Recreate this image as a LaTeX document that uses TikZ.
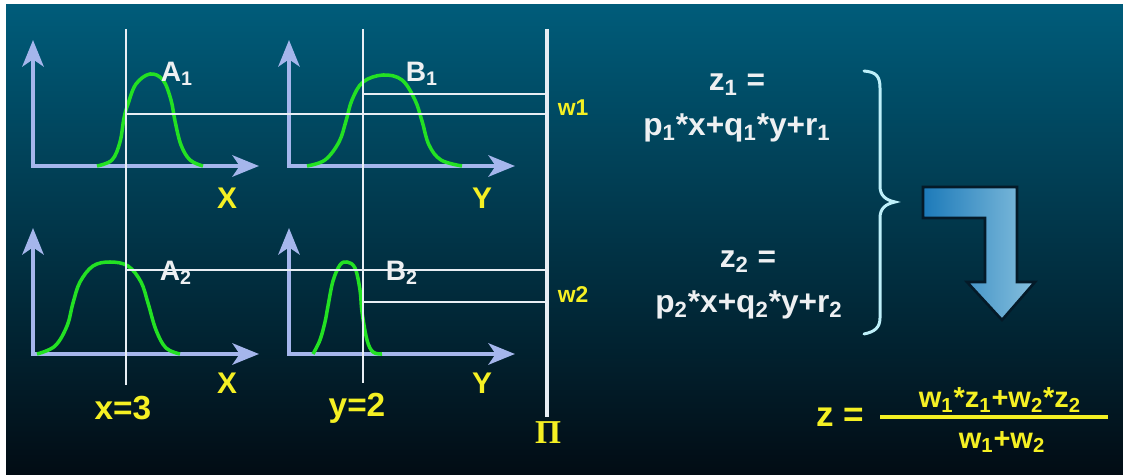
\documentclass[tikz,border=0pt]{standalone}
\usepackage{fontspec}
\setmainfont{Liberation Sans}
\newfontfamily\pifont{Liberation Serif}
\usetikzlibrary{arrows.meta,positioning}

\definecolor{bgtop}{RGB}{0,92,122}
\definecolor{bgmid}{RGB}{4,50,70}
\definecolor{bgbot}{RGB}{2,12,20}
\definecolor{axisblue}{RGB}{165,182,236}
\definecolor{mfgreen}{RGB}{35,225,35}
\definecolor{guidewhite}{RGB}{232,238,244}
\definecolor{lblyellow}{RGB}{245,240,35}
\definecolor{lblwhite}{RGB}{238,240,242}
\definecolor{bracecyan}{RGB}{190,240,250}
\definecolor{arrowleft}{RGB}{28,122,185}
\definecolor{arrowright}{RGB}{135,192,222}
\definecolor{arrowedge}{RGB}{4,26,40}

\begin{document}
\begin{tikzpicture}[
  x=0.02cm, y=-0.02cm,
  axis/.style={draw=axisblue, line width=2.8pt,
    {Stealth[length=15pt,width=12pt,inset=4pt]}-{Stealth[length=15pt,width=12pt,inset=4pt]}},
  mf/.style={draw=mfgreen, line width=2pt, line join=round},
  guide/.style={draw=guidewhite, line width=1.1pt},
  piline/.style={draw=guidewhite, line width=2.2pt},
  setlbl/.style={text=lblwhite, font=\fontsize{16}{18}\selectfont\bfseries, inner sep=0pt},
  varlbl/.style={text=lblyellow, font=\fontsize{17}{19}\selectfont\bfseries, inner sep=0pt},
  vallbl/.style={text=lblyellow, font=\fontsize{19}{21}\selectfont\bfseries, inner sep=0pt},
  wlbl/.style={text=lblyellow, font=\fontsize{13}{15}\selectfont\bfseries, inner sep=0pt},
  eqn/.style={text=lblwhite, font=\fontsize{18}{20}\selectfont\bfseries, inner sep=0pt},
  res/.style={text=lblyellow, font=\fontsize{16.5}{19}\selectfont\bfseries, inner sep=0pt}
]
\useasboundingbox (0,0) rectangle (1123,475);
\fill[white] (0,0) rectangle (1123,475);
\shade[top color=bgtop, middle color=bgmid, bottom color=bgbot] (6,5) rectangle (1123,475);

% axes of the four panels
\foreach \ox/\oy/\nm in {33/166/a1, 289/166/b1, 33/354/a2, 289/354/b2} {
  \coordinate (o\nm) at (\ox,\oy);
  \coordinate (x\nm) at (\ox+226,\oy);
  \coordinate (y\nm) at (\ox,\oy-126);
  \draw[axis] (y\nm) -- (o\nm) -- (x\nm);
}

% membership functions
\draw[mf] plot[smooth, tension=0.6] coordinates {(97,166) (112,160) (120,142) (124,118) (128,104) (136,84) (150,74) (163,80) (171,100) (175,121) (181,145) (190,160) (203,166)};
\draw[mf] plot[smooth, tension=0.6] coordinates {(307,166) (325,160) (339,142) (346,121) (352,100) (363,82) (383,75) (402,80) (415,100) (422,121) (429,145) (441,160) (462,166)};
\draw[mf] plot[smooth, tension=0.6] coordinates {(37,354) (55,346) (67,326) (73,303) (80,282) (93,266) (110,262) (128,266) (141,282) (148,303) (156,330) (166,348) (180,354)};
\draw[mf] plot[smooth, tension=0.6] coordinates {(313,354) (320,340) (325,322) (328,306) (333,281) (340,265) (347,262) (355,268) (360,290) (362,312) (367,340) (373,352) (382,354)};

% input values and output axis
\coordinate (gxtop) at (126,29);
\coordinate (gxbot) at (126,385);
\coordinate (gytop) at (363,29);
\coordinate (gybot) at (363,383);
\coordinate (pitop) at (547,29);
\coordinate (pibot) at (547,417);
\draw[guide] (gxtop) -- (gxbot);
\draw[guide] (gytop) -- (gybot);
\draw[piline] (pitop) -- (pibot);

\coordinate (cuta1) at (126,114);
\coordinate (cutb1) at (363,94);
\coordinate (cuta2) at (126,270);
\coordinate (cutb2) at (363,302);
\foreach \c in {cuta1, cutb1, cuta2, cutb2}
  \draw[guide] (\c) -- (\c -| pitop);

% labels
\node[setlbl] (la1) at (177,74) {A\textsubscript{1}};
\node[setlbl] (lb1) at (422,74) {B\textsubscript{1}};
\node[setlbl] (la2) at (176,273) {A\textsubscript{2}};
\node[setlbl] (lb2) at (402,273) {B\textsubscript{2}};
\node[varlbl] (vx1) at (227,198) {X};
\node[varlbl] (vy1) at (482,198) {Y};
\node[varlbl] (vx2) at (227,383) {X};
\node[varlbl] (vy2) at (482,383) {Y};
\node[vallbl] (xval) at (123,408) {x=3};
\node[vallbl] (yval) at (357,408) {y=2};
\node[text=lblyellow, font=\pifont\fontsize{19}{21}\selectfont\bfseries, inner sep=0pt] (pi) at (548,433) {Π};
\node[wlbl] (w1) at (573,108) {w1};
\node[wlbl] (w2) at (573,295) {w2};

% rule outputs
\node[eqn] (z1) at (737,85) {z\textsubscript{1} =};
\node[eqn] (f1) at (737,128) {p\textsubscript{1}*x+q\textsubscript{1}*y+r\textsubscript{1}};
\node[eqn] (z2) at (748,262) {z\textsubscript{2} =};
\node[eqn] (f2) at (749,305) {p\textsubscript{2}*x+q\textsubscript{2}*y+r\textsubscript{2}};

% brace
\draw[bracecyan, line width=1.7pt, line cap=round]
  (864,71) .. controls (876,72) and (880,76) .. (880,88)
  -- (880,186) .. controls (880,196) and (886,200) .. (895,202)
  .. controls (886,204) and (880,208) .. (880,218)
  -- (880,318) .. controls (880,328) and (874,332) .. (864,334);

% bent arrow
\shade[left color=arrowleft, right color=arrowright, draw=arrowedge, line width=1.5pt]
  (923,187) -- (1017,187) -- (1017,282) -- (1035,282) -- (1002,320)
  -- (967,282) -- (985,282) -- (985,218) -- (923,218) -- cycle;

% weighted average
\node[res, font=\fontsize{20}{22}\selectfont\bfseries] (zres) at (840,417) {z =};
\node[res] (num) at (1000,400) {w\textsubscript{1}*z\textsubscript{1}+w\textsubscript{2}*z\textsubscript{2}};
\node[res] (den) at (1002,442) {w\textsubscript{1}+w\textsubscript{2}};
\coordinate (barl) at (880,417);
\coordinate (barr) at (1108,417);
\draw[lblyellow, line width=2.2pt] (barl) -- (barr);
\end{tikzpicture}
\end{document}
